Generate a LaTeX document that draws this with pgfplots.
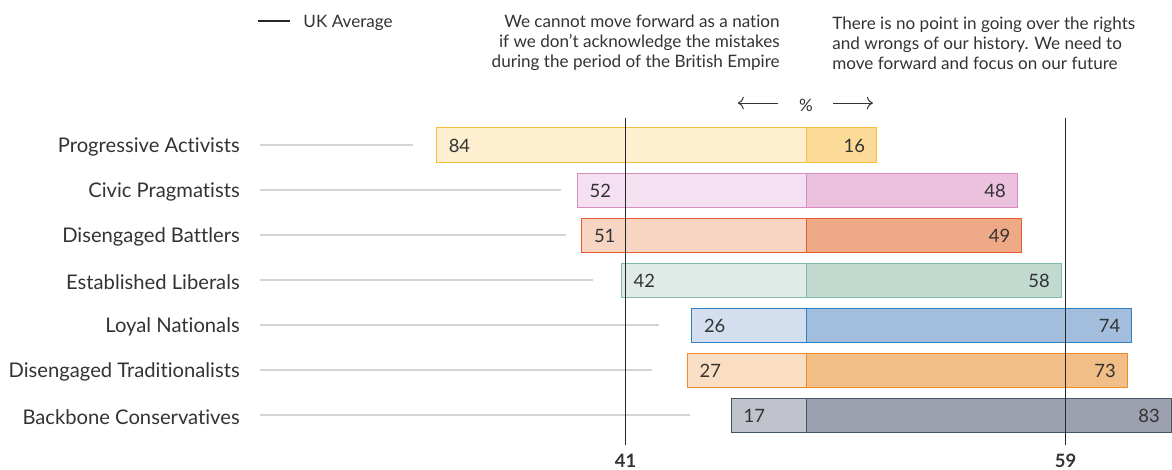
\documentclass[border=0pt]{standalone}
\usepackage{pgfplots}
\pgfplotsset{compat=1.18}
\usepackage{fontspec}
\setmainfont{Lato}[Ligatures=NoCommon]
\usetikzlibrary{arrows.meta}

% fills (left / right) and edges, one set per segment
\definecolor{paL}{HTML}{FDEFCF}\definecolor{paR}{HTML}{FCDB98}\definecolor{paE}{HTML}{F6BE3A}
\definecolor{cpL}{HTML}{F4E0F0}\definecolor{cpR}{HTML}{EAC2DD}\definecolor{cpE}{HTML}{D98CC0}
\definecolor{dbL}{HTML}{F8D5C2}\definecolor{dbR}{HTML}{EEAA87}\definecolor{dbE}{HTML}{E65A2E}
\definecolor{elL}{HTML}{E0EBE7}\definecolor{elR}{HTML}{C1D9CF}\definecolor{elE}{HTML}{7FBBA5}
\definecolor{lnL}{HTML}{D3DEEF}\definecolor{lnR}{HTML}{A3BEDD}\definecolor{lnE}{HTML}{2F7FC1}
\definecolor{dtL}{HTML}{F9DEC4}\definecolor{dtR}{HTML}{F2BE88}\definecolor{dtE}{HTML}{EC8A2C}
\definecolor{bcL}{HTML}{C0C3CC}\definecolor{bcR}{HTML}{9DA1AF}\definecolor{bcE}{HTML}{45556A}
\definecolor{txt}{HTML}{333333}
\definecolor{guide}{HTML}{D4D4D4}

\tikzset{
  lab/.style={font=\fontsize{10.1}{12}\selectfont,text=txt,inner sep=0pt,yshift=-1pt},
  val/.style={font=\fontsize{9.2}{11}\selectfont,text=txt,inner sep=0pt,yshift=-0.5pt},
  head/.style={font=\fontsize{8.55}{10}\selectfont,text=txt,inner sep=0pt,yshift=-1pt},
}

\begin{document}
\begin{tikzpicture}
\begin{axis}[
  scale only axis,
  width=586pt,height=235pt,
  xmin=-183.18,xmax=83.18,
  ymin=-3.222,ymax=7.222,
  y dir=reverse,
  axis lines=none,
  clip=false,
  every axis plot/.append style={line width=0.5pt},
  bars/.style={xbar,bar width=17pt,bar shift=0pt},
]
% guide lines from the labels towards the bars
\addplot[guide,line width=0.6pt] coordinates {(-124.1,0) (-89.3,0)};
\addplot[guide,line width=0.6pt] coordinates {(-124.1,1) (-55.7,1)};
\addplot[guide,line width=0.6pt] coordinates {(-124.1,2) (-54.5,2)};
\addplot[guide,line width=0.6pt] coordinates {(-124.1,3) (-48.4,3)};
\addplot[guide,line width=0.6pt] coordinates {(-124.1,4) (-33.4,4)};
\addplot[guide,line width=0.6pt] coordinates {(-124.1,5) (-35.0,5)};
\addplot[guide,line width=0.6pt] coordinates {(-124.1,6) (-26.4,6)};

% left side: "cannot move forward"
\addplot[bars,fill=paL,draw=paE] coordinates {(-84,0)};
\addplot[bars,fill=cpL,draw=cpE] coordinates {(-52,1)};
\addplot[bars,fill=dbL,draw=dbE] coordinates {(-51,2)};
\addplot[bars,fill=elL,draw=elE] coordinates {(-42,3)};
\addplot[bars,fill=lnL,draw=lnE] coordinates {(-26,4)};
\addplot[bars,fill=dtL,draw=dtE] coordinates {(-27,5)};
\addplot[bars,fill=bcL,draw=bcE] coordinates {(-17,6)};
% right side: "no point going over"
\addplot[bars,fill=paR,draw=paE] coordinates {(16,0)};
\addplot[bars,fill=cpR,draw=cpE] coordinates {(48,1)};
\addplot[bars,fill=dbR,draw=dbE] coordinates {(49,2)};
\addplot[bars,fill=elR,draw=elE] coordinates {(58,3)};
\addplot[bars,fill=lnR,draw=lnE] coordinates {(74,4)};
\addplot[bars,fill=dtR,draw=dtE] coordinates {(73,5)};
\addplot[bars,fill=bcR,draw=bcE] coordinates {(83,6)};

% UK average
\addplot[black!85,line width=0.65pt] coordinates {(-41,-0.6) (-41,6.667)};
\addplot[black!85,line width=0.65pt] coordinates {(59,-0.6) (59,6.667)};
\node[font=\bfseries\fontsize{9.2}{11}\selectfont,text=txt] at (axis cs:-41,7.02) {41};
\node[font=\bfseries\fontsize{9.2}{11}\selectfont,text=txt] at (axis cs:59,7.02) {59};

% category labels
\node[lab,anchor=east] at (axis cs:-128.6,0) {Progressive Activists};
\node[lab,anchor=east] at (axis cs:-128.6,1) {Civic Pragmatists};
\node[lab,anchor=east] at (axis cs:-128.6,2) {Disengaged Battlers};
\node[lab,anchor=east] at (axis cs:-128.6,3) {Established Liberals};
\node[lab,anchor=east] at (axis cs:-128.6,4) {Loyal Nationals};
\node[lab,anchor=east] at (axis cs:-128.6,5) {Disengaged Traditionalists};
\node[lab,anchor=east] at (axis cs:-128.6,6) {Backbone Conservatives};

% values
\node[val,anchor=west,xshift=6pt] at (axis cs:-84,0) {84};
\node[val,anchor=west,xshift=6pt] at (axis cs:-52,1) {52};
\node[val,anchor=west,xshift=6pt] at (axis cs:-51,2) {51};
\node[val,anchor=west,xshift=6pt] at (axis cs:-42,3) {42};
\node[val,anchor=west,xshift=6pt] at (axis cs:-26,4) {26};
\node[val,anchor=west,xshift=6pt] at (axis cs:-27,5) {27};
\node[val,anchor=west,xshift=6pt] at (axis cs:-17,6) {17};
\node[val,anchor=east,xshift=-5.5pt] at (axis cs:16,0) {16};
\node[val,anchor=east,xshift=-5.5pt] at (axis cs:48,1) {48};
\node[val,anchor=east,xshift=-5.5pt] at (axis cs:49,2) {49};
\node[val,anchor=east,xshift=-5.5pt] at (axis cs:58,3) {58};
\node[val,anchor=east,xshift=-5.5pt] at (axis cs:74,4) {74};
\node[val,anchor=east,xshift=-5.5pt] at (axis cs:73,5) {73};
\node[val,anchor=east,xshift=-5.5pt] at (axis cs:83,6) {83};

% header
\addplot[black!85,line width=0.6pt] coordinates {(-124.5,-2.756) (-117.3,-2.756)};
\node[head,anchor=west] at (axis cs:-114.3,-2.756) {UK Average};
\node[head,align=right,anchor=east]
  at (axis cs:-5.9,-2.31) {We cannot move forward as a nation\\if we don't acknowledge the mistakes\\during the period of the British Empire};
\node[head,align=left,anchor=west]
  at (axis cs:5.9,-2.31) {There is no point in going over the rights\\and wrongs of our history. We need to\\move forward and focus on our future};
\node[head] at (axis cs:0,-0.933) {\%};
\draw[txt,line width=0.5pt,-{To[length=3pt]}] (axis cs:-6.4,-0.933) -- (axis cs:-15.5,-0.933);
\draw[txt,line width=0.5pt,-{To[length=3pt]}] (axis cs:6.2,-0.933) -- (axis cs:15.2,-0.933);
\end{axis}
\pgfresetboundingbox
\path[use as bounding box] (current axis.south west) rectangle (current axis.north east);
\end{tikzpicture}
\end{document}
